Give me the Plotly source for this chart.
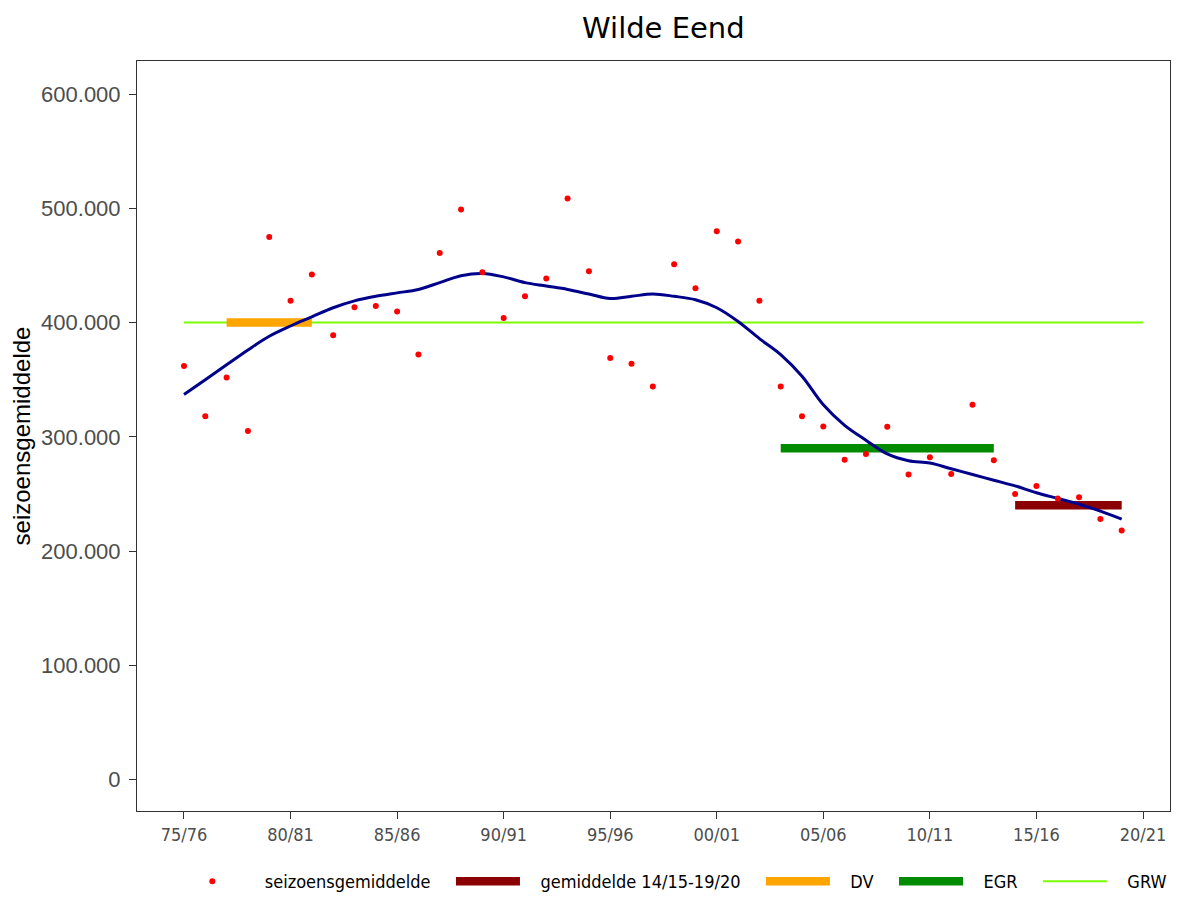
import plotly.graph_objects as go

seasons = ["75/76","76/77","77/78","78/79","79/80","80/81","81/82","82/83","83/84","84/85",
           "85/86","86/87","87/88","88/89","89/90","90/91","91/92","92/93","93/94","94/95",
           "95/96","96/97","97/98","98/99","99/00","00/01","01/02","02/03","03/04","04/05",
           "05/06","06/07","07/08","08/09","09/10","10/11","11/12","12/13","13/14","14/15",
           "15/16","16/17","17/18","18/19","19/20","20/21"]

seizoensgemiddelde = [362, 318, 352, 305, 475, 419, 442, 389, 413.5, 414.6,
                      409.6, 372, 461, 499, 444, 404, 423, 438.5, 508.6, 445,
                      369, 364, 344, 451, 430, 480, 471, 419, 344, 318,
                      309, 280, 285, 308.7, 267, 282, 267.5, 328, 279.5, 250,
                      257, 246, 247, 228, 218]
seizoensgemiddelde = [v * 1000 for v in seizoensgemiddelde]

trend = [337, 350, 363, 376, 388, 397, 405, 413, 419, 423,
         426, 429, 435, 441, 443, 440, 435, 432, 429, 425,
         421, 423, 425, 423, 420, 413, 401, 386, 372, 353,
         328, 310, 297, 285, 279, 277, 272, 267, 262, 257,
         251, 246, 241, 235, 228]
trend = [v * 1000 for v in trend]

grw_seasons = ["75/76", "20/21"]; grw_value = 400000
dv_seasons = ["77/78", "81/82"]; dv_value = 400000
egr_seasons = ["03/04", "13/14"]; egr_value = 290000
gem_seasons = ["14/15", "19/20"]; gem_value = 240000

y_ticks = [0, 100000, 200000, 300000, 400000, 500000, 600000]
y_ticktext = ["0", "100.000", "200.000", "300.000", "400.000", "500.000", "600.000"]
x_ticks = seasons[::5]

cond = "DejaVu Sans Condensed, DejaVu Sans, sans-serif"
arial = "Liberation Sans, Arial, sans-serif"
pre = "\u00a0" * 3
post = "\u00a0" * 3

fig = go.Figure()
fig.add_trace(go.Scatter(x=grw_seasons, y=[grw_value]*2, mode="lines", name=pre + "GRW",
                         line=dict(color="#7CFC00", width=2), legendrank=5))
fig.add_trace(go.Scatter(x=dv_seasons, y=[dv_value]*2, mode="lines", name=pre + "DV" + post,
                         line=dict(color="#FFA500", width=8.5), legendrank=3))
fig.add_trace(go.Scatter(x=egr_seasons, y=[egr_value]*2, mode="lines", name=pre + "EGR" + post,
                         line=dict(color="#008B00", width=8.5), legendrank=4))
fig.add_trace(go.Scatter(x=gem_seasons, y=[gem_value]*2, mode="lines",
                         name=pre + "gemiddelde 14/15-19/20" + post,
                         line=dict(color="#8B0000", width=8.5), legendrank=2))
fig.add_trace(go.Scatter(x=seasons[:45], y=trend, mode="lines", showlegend=False,
                         line=dict(color="#00008B", width=3, shape="spline")))
fig.add_trace(go.Scatter(x=seasons[:45], y=seizoensgemiddelde, mode="markers",
                         name=pre + "seizoensgemiddelde" + post,
                         marker=dict(color="#FF0000", size=6), legendrank=1))

fig.update_layout(
    width=1163, height=892,
    margin=dict(l=129, r=1, t=53, b=89),
    plot_bgcolor="white", paper_bgcolor="white",
    title=dict(text="Wilde Eend", x=0.5635, xanchor="center", y=0.978, yanchor="middle",
               font=dict(family="DejaVu Sans, sans-serif", size=29, color="black")),
    showlegend=True,
    legend=dict(orientation="h", xref="container", yref="container",
                x=0.5725, xanchor="center", y=0.0, yanchor="bottom",
                font=dict(family=cond, size=18, color="black"), itemwidth=64,
                traceorder="normal", bgcolor="rgba(0,0,0,0)"),
    xaxis=dict(type="category", categoryorder="array", categoryarray=seasons,
               range=[-2.205, 46.267], tickmode="array", tickvals=x_ticks,
               showgrid=False, zeroline=False, showline=True, mirror=True,
               linecolor="#333333", linewidth=1, ticks="outside", ticklen=7,
               tickcolor="#333333", tickfont=dict(family=cond, size=18, color="#4d4d4d")),
    yaxis=dict(range=[-27600, 629000], tickmode="array", tickvals=y_ticks, ticktext=y_ticktext,
               showgrid=False, zeroline=False, showline=True, mirror=True,
               linecolor="#333333", linewidth=1, ticks="outside", ticklen=7,
               tickcolor="#333333", ticklabelstandoff=4,
               tickfont=dict(family=arial, size=22, color="#4d4d4d"),
               title=dict(text="seizoensgemiddelde", standoff=10,
                          font=dict(family=arial, size=24, color="black"))),
)

fig.write_html("out.html")
